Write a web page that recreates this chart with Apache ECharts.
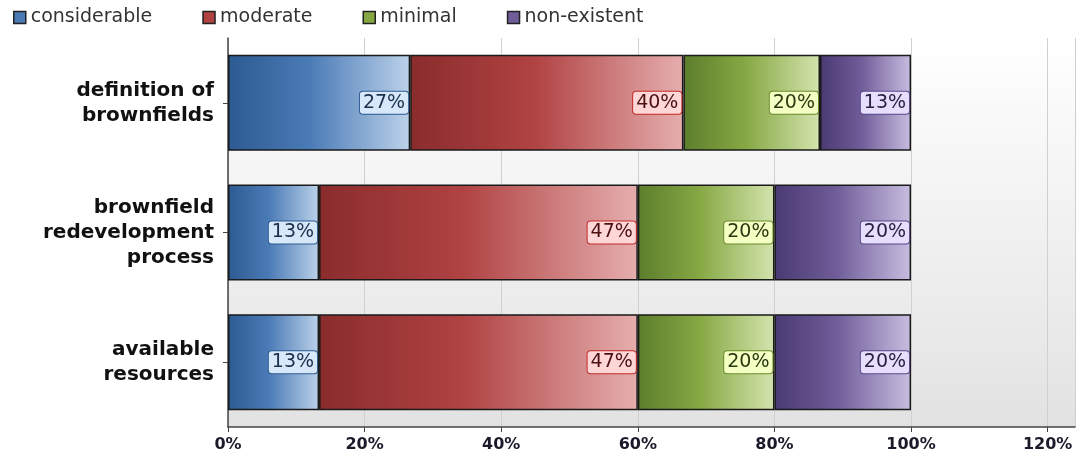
<!DOCTYPE html>
<html>
<head>
<meta charset="utf-8">
<script src="https://cdn.jsdelivr.net/npm/echarts@6/dist/echarts.min.js"></script>
<style>
  html, body { margin: 0; padding: 0; background: #fff; }
  #main { width: 1081px; height: 463px; }
</style>
</head>
<body>
<div id="main"></div>
<script>
// categories, top to bottom
var categories = ['definition of\nbrownfields', 'brownfield\nredevelopment\nprocess', 'available\nresources'];
var seriesNames = ['considerable', 'moderate', 'minimal', 'non-existent'];
var considerable = [26.67, 13.33, 13.33];
var moderate = [40, 46.67, 46.67];
var minimal = [20, 20, 20];
var nonExistent = [13.33, 20, 20];
var tickLabels = ['0%', '20%', '40%', '60%', '80%', '100%', '120%'];

// dark -> mid -> light for each series, plus label box colours
var palette = [
  { c: ['#2c5a91', '#4b7bb6', '#bcd2ea'], bg: '#d6e8fa', bd: '#2c5a91', txt: '#1a2f4a' },
  { c: ['#8a2c2c', '#b04242', '#e6aeae'], bg: '#ffd6d6', bd: '#c02a2a', txt: '#4a1010' },
  { c: ['#5c7d2c', '#86a843', '#d4e4ae'], bg: '#f4ffc4', bd: '#6a8a2a', txt: '#2a3a10' },
  { c: ['#4a3a72', '#6f5c98', '#c8bde0'], bg: '#e6defc', bd: '#57478a', txt: '#2a2040' }
];
var values = [considerable, moderate, minimal, nonExistent];

function grad(c) {
  return new echarts.graphic.LinearGradient(0, 0, 1, 0, [
    { offset: 0, color: c[0] },
    { offset: 0.45, color: c[1] },
    { offset: 1, color: c[2] }
  ]);
}

var myChart = echarts.init(document.getElementById('main'));

var series = seriesNames.map(function (name, i) {
  var p = palette[i];
  return {
    name: name,
    type: 'bar',
    stack: 'total',
    barWidth: '74%',
    color: p.c[1],
    itemStyle: { color: grad(p.c), borderColor: '#1a1a1a', borderWidth: 1.5 },
    label: {
      show: true,
      position: 'insideRight',
      distance: 2,
      formatter: function (d) { return Math.round(d.value) + '%'; },
      fontFamily: 'DejaVu Sans',
      fontSize: 19,
      color: p.txt,
      backgroundColor: p.bg,
      borderColor: p.bd,
      borderWidth: 1,
      borderRadius: 3,
      padding: [2, 3, 1, 3]
    },
    data: values[i]
  };
});

myChart.setOption({
  animation: false,
  legend: {
    left: 8,
    top: 3,
    itemWidth: 12,
    itemHeight: 12,
    itemGap: 50,
    icon: 'rect',
    textStyle: { fontFamily: 'DejaVu Sans', fontSize: 19, color: '#333' },
    data: seriesNames.map(function (n, i) {
      return { name: n, itemStyle: { color: palette[i].c[1], borderColor: '#222', borderWidth: 1.5 } };
    })
  },
  grid: {
    left: 228,
    right: 6,
    top: 38,
    bottom: 36,
    show: true,
    borderWidth: 0,
    backgroundColor: new echarts.graphic.LinearGradient(0, 0, 0, 1, [
      { offset: 0, color: '#ffffff' },
      { offset: 1, color: '#e2e2e2' }
    ])
  },
  xAxis: {
    type: 'value',
    min: 0,
    max: 124,
    interval: 20,
    axisLine: { show: true, lineStyle: { color: '#444', width: 1.5 } },
    axisTick: { show: true, length: 5, lineStyle: { color: '#444' } },
    splitLine: { show: true, lineStyle: { color: '#d0d0d0' } },
    axisLabel: {
      showMaxLabel: false,
      margin: 10,
      fontFamily: 'DejaVu Sans',
      fontWeight: 'bold',
      fontSize: 16,
      color: '#1a1a2a',
      formatter: function (v) { return tickLabels[v / 20]; }
    }
  },
  yAxis: {
    type: 'category',
    inverse: true,
    data: categories,
    axisLine: { show: true, lineStyle: { color: '#444', width: 1.5 } },
    axisTick: { show: true, alignWithLabel: true, length: 5, lineStyle: { color: '#444' } },
    axisLabel: {
      margin: 14,
      fontFamily: 'DejaVu Sans',
      fontWeight: 'bold',
      fontSize: 20,
      lineHeight: 25,
      color: '#111',
      align: 'right'
    }
  },
  series: series
});
</script>
</body>
</html>
